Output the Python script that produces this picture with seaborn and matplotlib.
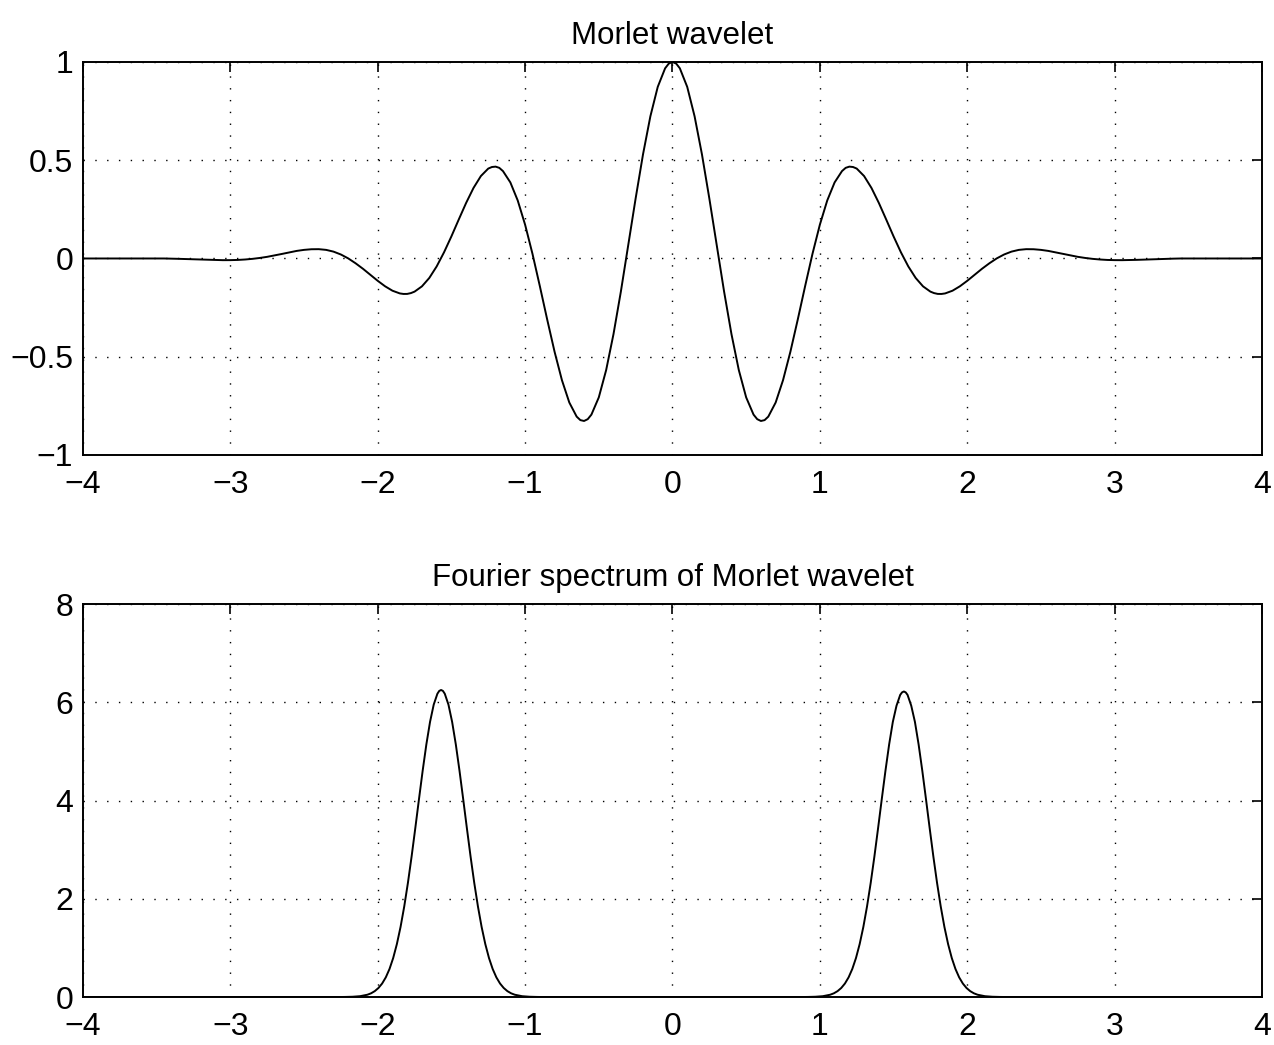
import numpy as np
import pandas as pd
import matplotlib
matplotlib.use("Agg")
import matplotlib.pyplot as plt
import seaborn as sns

# Morlet wavelet, sampled every 0.05 on [-4, 4]
wave_x = np.linspace(-4.0, 4.0, 161)
wave_y = [
    0.0, 0.0, 0.0, 0.0, 0.0, 0.0, 0.0, 0.0, 0.0, 0.0, 0.0, 0.0,
    -0.0008, -0.0018, -0.0030, -0.0043, -0.0057, -0.0070, -0.0080, -0.0086,
    -0.0084, -0.0074, -0.0052, -0.0019, 0.0027, 0.0084, 0.0155, 0.0231,
    0.0309, 0.0385, 0.0438, 0.0470, 0.0474, 0.0438, 0.0349, 0.0203,
    0.0004, -0.0245, -0.0524, -0.0832, -0.1136, -0.1415, -0.1640, -0.1778,
    -0.1803, -0.1687, -0.1419, -0.0991, -0.0404, 0.0314, 0.1125, 0.1985,
    0.2829, 0.3590, 0.4195, 0.4575, 0.4674, 0.4446, 0.3870, 0.2951,
    0.1721, 0.0239, -0.1406, -0.3108, -0.4746, -0.6194, -0.7330, -0.8048,
    -0.8269, -0.7945, -0.7070, -0.5677, -0.3841, -0.1676, 0.0676, 0.3056,
    0.5296, 0.7235, 0.8732, 0.9677,
    1.0,
    0.9677, 0.8732, 0.7235, 0.5296, 0.3056, 0.0676, -0.1676, -0.3841,
    -0.5677, -0.7070, -0.7945, -0.8269, -0.8048, -0.7330, -0.6194, -0.4746,
    -0.3108, -0.1406, 0.0239, 0.1721, 0.2951, 0.3870, 0.4446, 0.4674,
    0.4575, 0.4195, 0.3590, 0.2829, 0.1985, 0.1125, 0.0314, -0.0404,
    -0.0991, -0.1419, -0.1687, -0.1803, -0.1778, -0.1640, -0.1415, -0.1136,
    -0.0832, -0.0524, -0.0245, 0.0004, 0.0203, 0.0349, 0.0438, 0.0474,
    0.0470, 0.0438, 0.0385, 0.0309, 0.0231, 0.0155, 0.0084, 0.0027,
    -0.0019, -0.0052, -0.0074, -0.0084, -0.0086, -0.0080, -0.0070, -0.0057,
    -0.0043, -0.0030, -0.0018, -0.0008,
    0.0, 0.0, 0.0, 0.0, 0.0, 0.0, 0.0, 0.0, 0.0, 0.0, 0.0, 0.0,
]
# extra samples around the crests and troughs
wave_x_fine = [-1.825, -1.775, -1.225, -1.175, -0.625, -0.575, -0.025,
               0.025, 0.575, 0.625, 1.175, 1.225, 1.775, 1.825]
wave_y_fine = [-0.1805, -0.1762, 0.4655, 0.4612, -0.8225, -0.8177, 0.9919,
               0.9919, -0.8177, -0.8225, 0.4612, 0.4655, -0.1762, -0.1805]

# Fourier spectrum of the wavelet: two narrow peaks near +-pi/2
spec_x = [
    -4.0, -3.0, -2.3,
    -2.27, -2.22, -2.17, -2.12, -2.07, -2.045, -2.02, -1.995, -1.97, -1.945,
    -1.92, -1.895, -1.87, -1.845, -1.82, -1.795, -1.77, -1.745, -1.72, -1.695,
    -1.67, -1.645, -1.62, -1.595, -1.5825, -1.57, -1.5575, -1.545, -1.52,
    -1.495, -1.47, -1.445,
    -1.42, -1.395, -1.37, -1.345, -1.32, -1.295, -1.27, -1.245, -1.22, -1.195,
    -1.17, -1.145, -1.12, -1.095, -1.07, -1.02, -0.97, -0.92, -0.87,
    0.0,
    0.87, 0.92, 0.97, 1.02, 1.07, 1.095, 1.12, 1.145, 1.17, 1.195, 1.22,
    1.245, 1.27, 1.295, 1.32, 1.345, 1.37, 1.395, 1.42, 1.445, 1.47, 1.495,
    1.52, 1.545, 1.5575, 1.57, 1.5825, 1.595, 1.62, 1.645, 1.67, 1.695, 1.72,
    1.745, 1.77,
    1.795, 1.82, 1.845, 1.87, 1.895, 1.92, 1.945, 1.97, 1.995, 2.02, 2.045,
    2.07, 2.12, 2.17, 2.22, 2.27,
    2.3, 3.0, 4.0,
]
spec_y = [
    0.0, 0.0, 0.0,
    0.0, 0.002, 0.006, 0.017, 0.047, 0.076, 0.120, 0.184, 0.275, 0.401,
    0.571, 0.794, 1.078, 1.427, 1.844, 2.325, 2.861, 3.437, 4.028, 4.606,
    5.141, 5.600, 5.952, 6.174, 6.231, 6.25, 6.231, 6.174, 5.952,
    5.600, 5.141, 4.606,
    4.028, 3.437, 2.861, 2.325, 1.844, 1.427, 1.078, 0.794, 0.571, 0.401,
    0.275, 0.184, 0.120, 0.076, 0.047, 0.017, 0.006, 0.002, 0.0,
    0.0,
    0.0, 0.002, 0.006, 0.017, 0.047, 0.076, 0.120, 0.184, 0.275, 0.401, 0.571,
    0.794, 1.078, 1.427, 1.844, 2.325, 2.861, 3.437, 4.028, 4.606, 5.141, 5.600,
    5.930, 6.150, 6.201, 6.22, 6.201, 6.150, 5.930, 5.600, 5.141, 4.606, 4.028,
    3.437, 2.861,
    2.325, 1.844, 1.427, 1.078, 0.794, 0.571, 0.401, 0.275, 0.184, 0.120, 0.076,
    0.047, 0.017, 0.006, 0.002, 0.0,
    0.0, 0.0, 0.0,
]

x_ticks = [-4, -3, -2, -1, 0, 1, 2, 3, 4]
wave_yticks = [-1, -0.5, 0, 0.5, 1]
wave_yticklabels = ["\u22121", "\u22120.5", "0", "0.5", "1"]
spec_yticks = [0, 2, 4, 6, 8]
titles = ["Morlet wavelet", "Fourier spectrum of Morlet wavelet"]

sns.set_theme(style="white")
plt.rcParams["font.family"] = ["Liberation Sans", "DejaVu Sans"]
plt.rcParams["axes.unicode_minus"] = True
plt.rcParams["lines.solid_joinstyle"] = "round"

fig = plt.figure(figsize=(12.74, 10.45), dpi=100)
ax1 = fig.add_axes([0.0651, 0.5646, 0.9255, 0.3761])
ax2 = fig.add_axes([0.0651, 0.0459, 0.9255, 0.3761])

wave_df = pd.DataFrame({"x": np.concatenate([wave_x, wave_x_fine]),
                        "y": list(wave_y) + list(wave_y_fine)})
spec_df = pd.DataFrame({"x": spec_x, "y": spec_y})

sns.lineplot(data=wave_df, x="x", y="y", ax=ax1, color="black",
             linewidth=1.4, estimator=None, sort=True)
sns.lineplot(data=spec_df, x="x", y="y", ax=ax2, color="black",
             linewidth=1.4, estimator=None, sort=True)

ax1.set_xlim(-4, 4)
ax1.set_ylim(-1, 1)
ax1.set_yticks(wave_yticks)
ax1.set_yticklabels(wave_yticklabels)
ax2.set_xlim(-4, 4)
ax2.set_ylim(0, 8)
ax2.set_yticks(spec_yticks)

for ax, title in zip([ax1, ax2], titles):
    ax.set_xticks(x_ticks)
    ax.set_xticklabels([str(t).replace("-", "\u2212") for t in x_ticks])
    ax.set_xlabel("")
    ax.set_ylabel("")
    ax.set_title(title, fontsize=22.5, pad=13, color="black")
    ax.grid(True, color="black", linestyle=(0, (1, 7.5)), linewidth=1.0)
    ax.tick_params(axis="both", direction="in", top=True, right=True,
                   length=7.5, width=1.2, labelsize=23, colors="black")
    ax.tick_params(axis="x", pad=11)
    ax.tick_params(axis="y", pad=7)
    for spine in ax.spines.values():
        spine.set_visible(True)
        spine.set_color("black")
        spine.set_linewidth(1.4)
    ax.set_facecolor("white")

fig.savefig("out.png", dpi=100, facecolor="white")
